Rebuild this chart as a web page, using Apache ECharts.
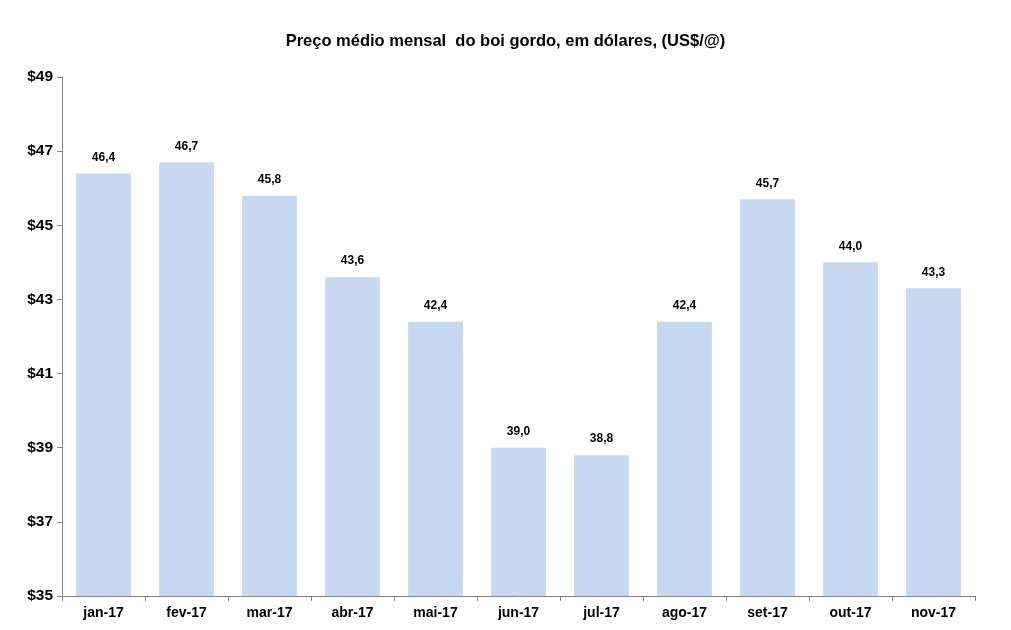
<!DOCTYPE html>
<html>
<head>
<meta charset="utf-8">
<script src="https://cdn.jsdelivr.net/npm/echarts@6/dist/echarts.min.js"></script>
<style>
  html, body { margin: 0; padding: 0; background: #fff; }
  #chart { width: 1011px; height: 630px; }
</style>
</head>
<body>
<div id="chart"></div>
<script>
// meses e preços (US$/@)
const months = ['jan-17', 'fev-17', 'mar-17', 'abr-17', 'mai-17', 'jun-17', 'jul-17', 'ago-17', 'set-17', 'out-17', 'nov-17']
const prices = [46.4, 46.7, 45.8, 43.6, 42.4, 39.0, 38.8, 42.4, 45.7, 44.0, 43.3]
const yMin = 35
const yMax = 49
const yStep = 2

const font = 'Liberation Sans'
const chart = echarts.init(document.getElementById('chart'))

chart.setOption({
  animation: false,
  textStyle: { fontFamily: font },
  title: {
    text: 'Preço médio mensal  do boi gordo, em dólares, (US$/@)',
    left: 'center',
    top: 28,
    textStyle: { fontFamily: font, fontSize: 16.5, fontWeight: 'bold', color: '#000' }
  },
  grid: { left: 62, right: 36, top: 77, bottom: 34 },
  xAxis: {
    type: 'category',
    data: months,
    axisLine: { lineStyle: { color: '#868686' } },
    axisTick: { show: true, length: 5, lineStyle: { color: '#868686' } },
    axisLabel: { color: '#000', fontWeight: 'bold', fontSize: 14, margin: 10 }
  },
  yAxis: {
    type: 'value',
    min: yMin,
    max: yMax,
    interval: yStep,
    axisLine: { show: true, lineStyle: { color: '#868686' } },
    axisTick: { show: true, length: 5, lineStyle: { color: '#868686' } },
    splitLine: { show: false },
    axisLabel: {
      color: '#000', fontWeight: 'bold', fontSize: 15.5, margin: 9,
      formatter: v => '$' + v
    }
  },
  series: [{
    type: 'bar',
    data: prices,
    barCategoryGap: '34%',
    itemStyle: { color: '#C6D9F1' },
    label: {
      show: true,
      position: 'top',
      distance: 10,
      color: '#000',
      fontWeight: 'bold',
      fontSize: 12,
      formatter: p => p.value.toFixed(1).replace('.', ',')
    }
  }]
})
</script>
</body>
</html>
